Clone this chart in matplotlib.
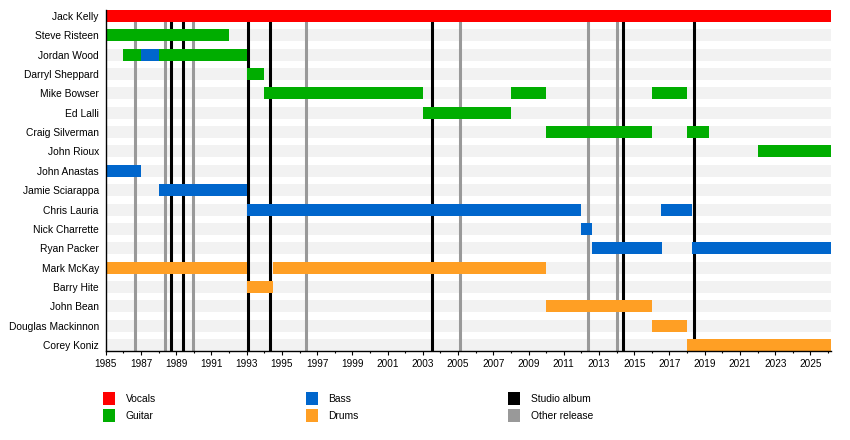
import matplotlib
matplotlib.use("Agg")
import matplotlib.pyplot as plt
from matplotlib.patches import Rectangle
from matplotlib.ticker import MultipleLocator

plt.rcParams["font.family"] = ["Liberation Sans", "DejaVu Sans"]

MEMBERS = ["Jack Kelly", "Steve Risteen", "Jordan Wood", "Darryl Sheppard",
           "Mike Bowser", "Ed Lalli", "Craig Silverman", "John Rioux",
           "John Anastas", "Jamie Sciarappa", "Chris Lauria", "Nick Charrette",
           "Ryan Packer", "Mark McKay", "Barry Hite", "John Bean",
           "Douglas Mackinnon", "Corey Koniz"]

START, END = 1985.0, 2026.15

# one entry per bar: member, role, from, to
BAR_MEMBER = ["Jack Kelly", "Steve Risteen", "Jordan Wood", "Jordan Wood", "Jordan Wood",
              "Darryl Sheppard", "Mike Bowser", "Mike Bowser", "Mike Bowser",
              "Ed Lalli", "Craig Silverman", "Craig Silverman", "John Rioux",
              "John Anastas", "Jamie Sciarappa", "Chris Lauria", "Chris Lauria",
              "Nick Charrette", "Ryan Packer", "Ryan Packer", "Mark McKay", "Mark McKay",
              "Barry Hite", "John Bean", "Douglas Mackinnon", "Corey Koniz"]
BAR_ROLE = ["Vocals", "Guitar", "Guitar", "Bass", "Guitar",
            "Guitar", "Guitar", "Guitar", "Guitar",
            "Guitar", "Guitar", "Guitar", "Guitar",
            "Bass", "Bass", "Bass", "Bass",
            "Bass", "Bass", "Bass", "Drums", "Drums",
            "Drums", "Drums", "Drums", "Drums"]
BAR_FROM = [1985.0, 1985.0, 1986.0, 1987.0, 1988.0,
            1993.0, 1994.0, 2008.0, 2016.0,
            2003.0, 2010.0, 2018.0, 2022.0,
            1985.0, 1988.0, 1993.0, 2016.5,
            2012.0, 2012.6, 2018.25, 1985.0, 1994.5,
            1993.0, 2010.0, 2016.0, 2018.0]
BAR_TO = [END, 1992.0, 1987.0, 1988.0, 1993.0,
          1994.0, 2003.0, 2010.0, 2018.0,
          2008.0, 2016.0, 2019.25, END,
          1987.0, 1993.0, 2012.0, 2018.25,
          2012.6, 2016.6, END, 1993.0, 2010.0,
          1994.5, 2016.0, 2018.0, END]

STUDIO_ALBUMS = [1988.71, 1989.39, 1993.09, 1994.32, 2003.50, 2014.36, 2018.40]
OTHER_RELEASES = [1986.68, 1988.38, 1989.95, 1996.38, 2005.12, 2012.39, 2014.04]

ROLE_COLORS = {"Vocals": "#ff0000", "Guitar": "#00ad00", "Bass": "#0066cc",
               "Drums": "#ff9f24"}
RELEASE_COLORS = {"Studio album": "#000000", "Other release": "#999999"}

W, H = 850, 440
fig = plt.figure(figsize=(W / 100, H / 100), dpi=100)
ax = fig.add_axes([105.7 / W, 1 - 351 / H, (830.7 - 105.7) / W, 341 / H])

bar_h = 0.62
rows = range(len(MEMBERS))
ax.barh(list(rows), END - START, left=START, height=bar_h, color="#f2f2f2", zorder=0)

for x in OTHER_RELEASES:
    ax.axvline(x, color=RELEASE_COLORS["Other release"], lw=2.2, zorder=1)
for x in STUDIO_ALBUMS:
    ax.axvline(x, color=RELEASE_COLORS["Studio album"], lw=2.2, zorder=1)

for m, r, a, b in zip(BAR_MEMBER, BAR_ROLE, BAR_FROM, BAR_TO):
    ax.barh(MEMBERS.index(m), b - a, left=a, height=bar_h,
            color=ROLE_COLORS[r], lw=0, zorder=2)

ax.set_xlim(START, END)
ax.set_ylim(len(MEMBERS) - 1 + bar_h / 2, -bar_h / 2)
ax.set_yticks(list(rows))
ax.set_yticklabels(MEMBERS, fontsize=7.4)
ax.tick_params(axis="y", length=0, pad=5)
ax.xaxis.set_major_locator(MultipleLocator(2, offset=1))
ax.xaxis.set_minor_locator(MultipleLocator(1))
ax.tick_params(axis="x", which="major", length=3, width=0.8, labelsize=7.2, pad=2.5)
ax.tick_params(axis="x", which="minor", length=1.5, width=0.8)
ax.set_xticks(range(1985, 2026, 2))
ax.set_xticklabels([str(y) for y in range(1985, 2026, 2)])
for s in ("top", "right"):
    ax.spines[s].set_visible(False)
for s in ("left", "bottom"):
    ax.spines[s].set_linewidth(1.0)
ax.patch.set_visible(False)

# legend, three columns of two
legend = [("Vocals", ROLE_COLORS["Vocals"]), ("Guitar", ROLE_COLORS["Guitar"]),
          ("Bass", ROLE_COLORS["Bass"]), ("Drums", ROLE_COLORS["Drums"]),
          ("Studio album", RELEASE_COLORS["Studio album"]),
          ("Other release", RELEASE_COLORS["Other release"])]
for i, (name, col) in enumerate(legend):
    x0 = 103.3 + (i // 2) * 202.4
    y0 = 392.3 + (i % 2) * 16.7
    fig.add_artist(Rectangle((x0 / W, 1 - (y0 + 12.5) / H), 12 / W, 12.5 / H,
                             transform=fig.transFigure, color=col, lw=0))
    fig.text((x0 + 22.5) / W, 1 - (y0 + 6.5) / H, name, fontsize=7.4,
             va="center", ha="left")

fig.savefig("out.png", dpi=100)
